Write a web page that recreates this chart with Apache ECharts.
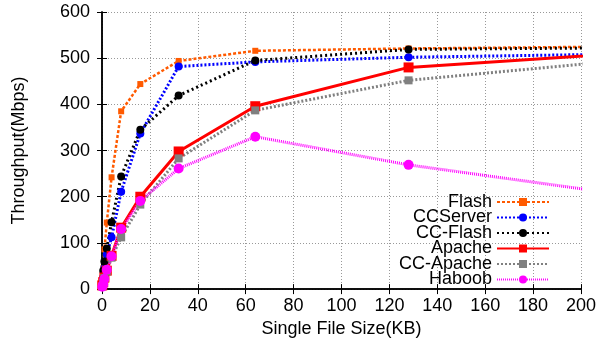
<!DOCTYPE html>
<html>
<head>
<meta charset="utf-8">
<script src="https://cdn.jsdelivr.net/npm/echarts@6/dist/echarts.min.js"></script>
<style>
  html, body { margin: 0; padding: 0; background: #fff; }
  #chart { width: 608px; height: 343px; }
</style>
</head>
<body>
<div id="chart"></div>
<script>
// file sizes in KB; the last point sits past the 200 KB edge and is clipped
const sizes = [0.1, 0.5, 1, 2, 4, 8, 16, 32, 64, 128, 256];

const flash    = [15, 45, 86, 144, 242, 385, 444, 494, 516, 521, 527];
const ccServer = [8, 25, 45, 75, 112, 211, 337, 482, 492, 502, 512];
const ccFlash  = [12, 40, 60, 88, 145, 244, 345, 419, 495, 519, 524];
const apache   = [8, 15, 25, 40, 72, 133, 200, 298, 396, 480, 523];
const ccApache = [6, 14, 24, 38, 68, 112, 183, 283, 387, 452, 514];
const haboob   = [5, 10, 22, 42, 71, 130, 191, 261, 330, 269, 177];

const font = "'Liberation Sans', Arial, sans-serif";
const pairs = (vals) => sizes.map((s, i) => [s, vals[i]]);

function line(name, vals, color, type, width, symbol, symbolSize) {
  return {
    name,
    type: "line",
    data: pairs(vals),
    symbol,
    symbolSize,
    showAllSymbol: true,
    clip: true,
    lineStyle: { color, width, type },
    itemStyle: { color },
  };
}

const chart = echarts.init(document.getElementById("chart"));

const gridLine = { show: true, lineStyle: { color: "#999", type: [1, 2], width: 1 } };
const frame = { show: true, lineStyle: { color: "#000", width: 1.5 } };

chart.setOption({
  animation: false,
  textStyle: { fontFamily: font },
  grid: { left: 102, right: 27, top: 12, bottom: 53 },
  legend: {
    orient: "vertical",
    align: "right",
    right: 53,
    top: 188,
    itemWidth: 52,
    itemHeight: 10,
    itemGap: -2.5,
    textStyle: { fontFamily: font, fontSize: 18, color: "#000" },
    data: ["Flash", "CCServer", "CC-Flash", "Apache", "CC-Apache", "Haboob"],
  },
  xAxis: [
    {
      type: "value",
      min: 0,
      max: 200,
      interval: 20,
      name: "Single File Size(KB)",
      nameLocation: "middle",
      nameGap: 29,
      nameTextStyle: { fontFamily: font, fontSize: 18, color: "#000" },
      axisLine: frame,
      axisTick: { inside: true, length: 5, lineStyle: { color: "#000" } },
      axisLabel: { fontFamily: font, fontSize: 18, color: "#000", margin: 8 },
      splitLine: gridLine,
    },
    {
      type: "value",
      position: "top",
      min: 0,
      max: 200,
      interval: 20,
      axisLine: frame,
      axisTick: { inside: true, length: 5, lineStyle: { color: "#000" } },
      axisLabel: { show: false },
      splitLine: { show: false },
    },
  ],
  yAxis: [
    {
      type: "value",
      min: 0,
      max: 600,
      interval: 100,
      name: "Throughput(Mbps)",
      nameLocation: "middle",
      nameGap: 74,
      nameTextStyle: { fontFamily: font, fontSize: 18, color: "#000" },
      axisLine: frame,
      axisTick: { inside: true, length: 5, lineStyle: { color: "#000" } },
      axisLabel: { fontFamily: font, fontSize: 18, color: "#000", margin: 12 },
      splitLine: gridLine,
    },
    {
      type: "value",
      position: "right",
      min: 0,
      max: 600,
      interval: 100,
      axisLine: frame,
      axisTick: { inside: true, length: 5, lineStyle: { color: "#000" } },
      axisLabel: { show: false },
      splitLine: { show: false },
    },
  ],
  series: [
    line("Flash", flash, "#ff5a00", [3, 2], 2.5, "rect", 6),
    line("CCServer", ccServer, "#0000ff", [2, 2], 3, "circle", 8),
    line("CC-Flash", ccFlash, "#000000", [2, 3], 3, "circle", 8),
    line("Apache", apache, "#ff0000", "solid", 3, "rect", 10),
    line("CC-Apache", ccApache, "#808080", [2, 2], 3, "rect", 8),
    line("Haboob", haboob, "#ff00ff", [1, 1], 3, "circle", 10),
  ],
});
</script>
</body>
</html>
